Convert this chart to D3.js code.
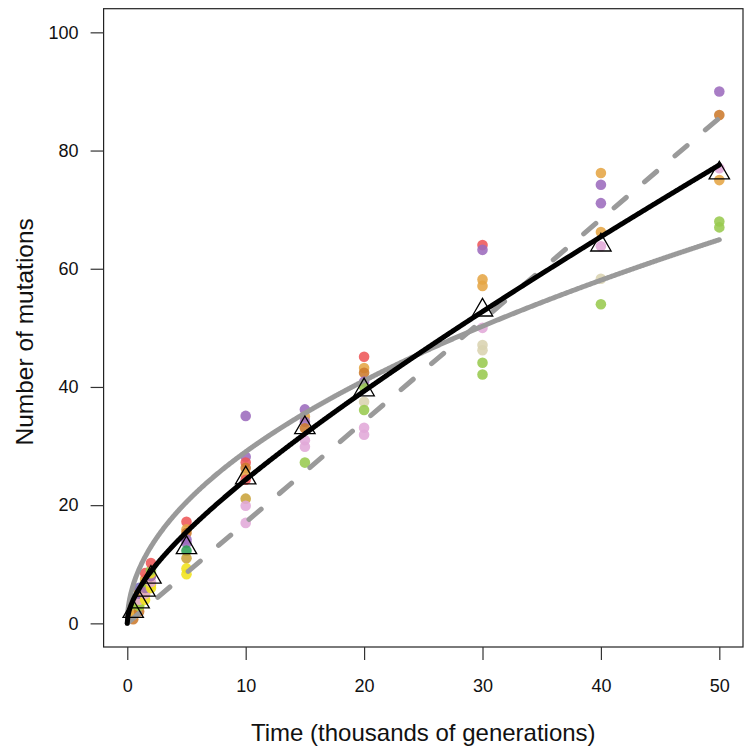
<!DOCTYPE html>
<html>
<head>
<meta charset="utf-8">
<script src="https://cdn.jsdelivr.net/npm/d3@7"></script>
<style>
  html, body { margin: 0; padding: 0; background: #fff; }
  svg { display: block; font-family: "Liberation Sans", Arial, Helvetica, sans-serif; }
</style>
</head>
<body>
<svg id="chart" width="751" height="754"></svg>
<script>
// ---- data (thousands of generations, number of mutations) ----
const times = [0.5, 1, 1.5, 2, 5, 10, 15, 20, 30, 40, 50];
const meanMutations = [2, 3.6, 5.6, 7.8, 12.8, 24.6, 33.1, 39.5, 53, 64, 76.2];

// individual clone values at each time, with their population colour key
const pointTimes = [
  0.5,0.5,0.5,0.5,0.5,0.5,0.5,
  1,1,1,1,1,1,1,1,
  1.5,1.5,1.5,1.5,1.5,1.5,1.5,1.5,
  2,2,2,2,2,2,2,2,
  5,5,5,5,5,5,5,5,5,
  10,10,10,10,10,10,10,10,10,
  15,15,15,15,15,15,15,
  20,20,20,20,20,20,20,20,20,
  30,30,30,30,30,30,30,30,30,
  40,40,40,40,40,40,40,
  50,50,50,50,50,50
];
const pointValues = [
  0.7,1.5,2,2.5,2,3,1.5,
  2,3,3,4,4,5,5.5,6,
  4,5,5,6,6,7,7.5,8.5,
  6,6.5,7,8,8,8.5,9,10.2,
  17.2,15.9,15.3,14.2,13.6,12.3,11,9.3,8.3,
  35.1,28.2,27.2,26.3,25.2,24.3,21.1,19.9,17,
  36.2,35,34.1,33,31,29.9,27.2,
  45.1,43.2,42.4,40.9,40,37.5,36.1,33.1,31.9,
  64,63.2,58.2,57.1,50,47.1,46.2,44.1,42.1,
  76.2,74.2,71.1,66.2,63.8,58.3,54,
  90,86,77,75,68,67
];
const pointGroups = [
  "brown","beige","pink","purple","yellow","green","orange",
  "brown","yellow","green","yellow","pink","purple","orange","blue",
  "yellow","yellow","pink","yellow","purple","green","orange","red",
  "yellow","yellow","pink","orange","purple","yellow","green","red",
  "red","orange","brown","purple","purple","darkgreen","gold","yellow","yellow",
  "purple","purple","red","brown","orange","red","gold","pink","pink",
  "purple","orange","purple","brown","pink","pink","green",
  "red","orange","brown","purple","green","beige","green","pink","pink",
  "red","purple","orange","orange","pink","beige","beige","green","green",
  "orange","purple","purple","orange","pink","beige","green",
  "purple","brown","pink","orange","green","green"
];
const groupKeys   = ["red","orange","brown","purple","blue","pink","green","darkgreen","beige","gold","yellow"];
const groupColors = ["#ee5658","#e5a544","#cc7a2c","#9c6bbd","#7b72be","#e1a8d8","#98c94f","#2e9f55","#d9d3b0","#c9a33a","#f1e31b"];

// fitted models
const sqrtCoef = 9.18;          // y = a * sqrt(t)
const linCoef = 1.71;           // y = b * t
const combSqrt = 5.03, combLin = 0.84;  // y = a*sqrt(t) + b*t

const xTicks = [0, 10, 20, 30, 40, 50];
const yTicks = [0, 20, 40, 60, 80, 100];

// ---- drawing ----
const svg = d3.select("#chart");
const x = d3.scaleLinear().domain([-2, 52]).range([103.6, 743]);
const y = d3.scaleLinear().domain([-4, 104]).range([647, 8.7]);
const color = d3.scaleOrdinal().domain(groupKeys).range(groupColors);

// box
svg.append("rect")
  .attr("x", x(-2)).attr("y", y(104))
  .attr("width", x(52) - x(-2)).attr("height", y(-4) - y(104))
  .attr("fill", "none").attr("stroke", "#222").attr("stroke-width", 1.2);

// axes
const xAxis = svg.append("g").attr("transform", `translate(0,${y(-4)})`)
  .call(d3.axisBottom(x).tickValues(xTicks).tickSize(13).tickPadding(19).tickFormat(d3.format("d")));
const yAxis = svg.append("g").attr("transform", `translate(${x(-2)},0)`)
  .call(d3.axisLeft(y).tickValues(yTicks).tickSize(13).tickPadding(12).tickFormat(d3.format("d")));
[xAxis, yAxis].forEach(g => {
  g.select(".domain").remove();
  g.selectAll(".tick line").attr("stroke", "#333").attr("stroke-width", 1.2);
  g.selectAll(".tick text").attr("fill", "#111").style("font-size", "18px")
    .style("font-family", '"Liberation Sans", Arial, sans-serif');
});

// points
const pts = pointTimes.map((t, i) => ({t, v: pointValues[i], g: pointGroups[i]}));
svg.append("g").selectAll("circle").data(pts).join("circle")
  .attr("cx", d => x(d.t)).attr("cy", d => y(d.v)).attr("r", 5.3)
  .attr("fill", d => color(d.g)).attr("fill-opacity", 0.88);

// curves
const tGrid = d3.range(0, 50.0001, 0.05);
const line = d3.line().x(d => x(d[0])).y(d => y(d[1]));
svg.append("path").datum(tGrid.map(t => [t, sqrtCoef * Math.sqrt(t)]))
  .attr("d", line).attr("fill", "none").attr("stroke", "#9a9a9a")
  .attr("stroke-width", 5).attr("stroke-linecap", "round");
svg.append("path").datum([0, 50].map(t => [t, linCoef * t]))
  .attr("d", line).attr("fill", "none").attr("stroke", "#9a9a9a")
  .attr("stroke-width", 5).attr("stroke-linecap", "round")
  .attr("stroke-dasharray", "16 24");
svg.append("path").datum(tGrid.map(t => [t, combSqrt * Math.sqrt(t) + combLin * t]))
  .attr("d", line).attr("fill", "none").attr("stroke", "#000")
  .attr("stroke-width", 5).attr("stroke-linecap", "round");

// means as open triangles
const tri = d3.symbol().type(d3.symbolTriangle).size(180);
svg.append("g").selectAll("path").data(times.map((t, i) => ({t, v: meanMutations[i]}))).join("path")
  .attr("d", tri)
  .attr("transform", d => `translate(${x(d.t)},${y(d.v)})`)
  .attr("fill", "none").attr("stroke", "#000").attr("stroke-width", 1.3);

// axis titles
svg.append("text")
  .attr("x", (x(-2) + x(52)) / 2).attr("y", 741)
  .attr("text-anchor", "middle").style("font-size", "24px").attr("fill", "#111")
  .text("Time (thousands of generations)");
svg.append("text")
  .attr("transform", `translate(33,${(y(-4) + y(104)) / 2 + 4}) rotate(-90)`)
  .attr("text-anchor", "middle").style("font-size", "24.5px").attr("fill", "#111")
  .text("Number of mutations");
</script>
</body>
</html>
